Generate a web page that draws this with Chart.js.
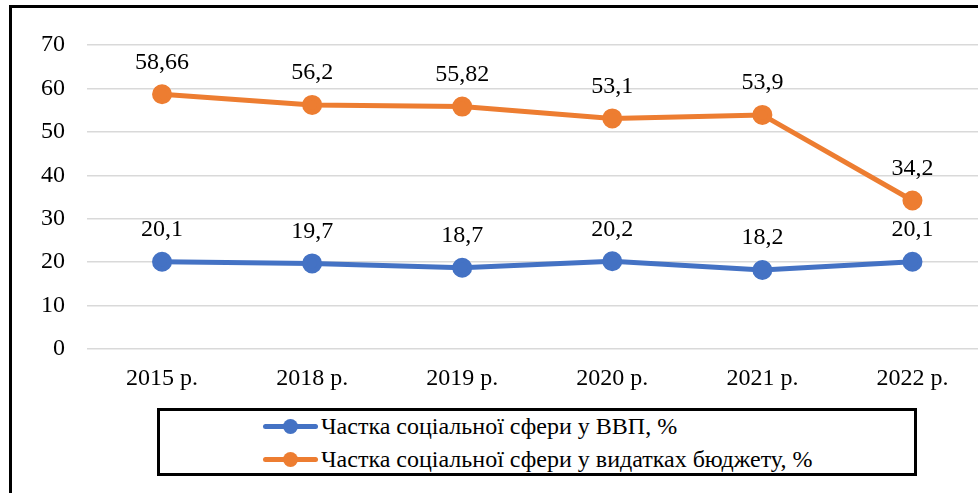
<!DOCTYPE html>
<html>
<head>
<meta charset="utf-8">
<script src="https://cdn.jsdelivr.net/npm/chart.js@4.4.0/dist/chart.umd.min.js"></script>
<style>
  html, body { margin: 0; padding: 0; background: #fff; overflow: hidden; width: 978px; height: 493px; }
  #frame { position: absolute; left: 9px; top: 5px; width: 2000px; height: 1000px; border: 3px solid #000; box-sizing: border-box; }
  #wrap { position: absolute; left: 0; top: 0; width: 1000px; height: 400px; }
  #legend { position: absolute; left: 157px; top: 408px; width: 760px; height: 68px; border: 3px solid #000; box-sizing: border-box; background: #fff;
            font-family: "Liberation Serif", "Times New Roman", serif; font-size: 24px; color: #000; }
  .item { position: absolute; left: 103px; height: 28px; line-height: 28px; white-space: nowrap; }
  .mk { position: absolute; left: 0; top: 11.5px; width: 55px; height: 5px; border-radius: 3px; }
  .mk i { position: absolute; left: 20px; top: -5px; width: 15px; height: 15px; border-radius: 50%; background: inherit; }
  .item span.t { position: absolute; left: 58px; top: 0; }
</style>
</head>
<body>
<div id="frame"></div>
<div id="wrap"><canvas id="c" width="1000" height="400"></canvas></div>
<div id="legend"></div>
<script>
const years = ["2015 р.", "2018 р.", "2019 р.", "2020 р.", "2021 р.", "2022 р."];
const gdpShare = [20.1, 19.7, 18.7, 20.2, 18.2, 20.1];
const budgetShare = [58.66, 56.2, 55.82, 53.1, 53.9, 34.2];
const seriesNames = ["Частка соціальної сфери у ВВП, %", "Частка соціальної сфери у видатках бюджету, %"];
const seriesColors = ["#4472C4", "#ED7D31"];
const yTicks = [0, 10, 20, 30, 40, 50, 60, 70];

const font = "'Liberation Serif', 'Times New Roman', serif";

// value labels above each point
const valueLabels = {
  id: "valueLabels",
  afterDatasetsDraw(chart) {
    const ctx = chart.ctx;
    ctx.save();
    ctx.font = "24px " + font;
    ctx.fillStyle = "#000";
    ctx.textAlign = "center";
    ctx.textBaseline = "middle";
    chart.data.datasets.forEach((ds, i) => {
      chart.getDatasetMeta(i).data.forEach((pt, j) => {
        ctx.fillText(String(ds.data[j]).replace(".", ","), pt.x, pt.y - 32);
      });
    });
    ctx.restore();
  }
};

new Chart(document.getElementById("c"), {
  type: "line",
  data: {
    labels: years,
    datasets: [
      { label: seriesNames[0], data: gdpShare, borderColor: seriesColors[0], backgroundColor: seriesColors[0],
        borderWidth: 5, pointRadius: 7.5, pointHoverRadius: 7.5, tension: 0 },
      { label: seriesNames[1], data: budgetShare, borderColor: seriesColors[1], backgroundColor: seriesColors[1],
        borderWidth: 5, pointRadius: 7.5, pointHoverRadius: 7.5, tension: 0 }
    ]
  },
  options: {
    responsive: false,
    animation: false,
    layout: { padding: { top: 45, right: 10, left: 0, bottom: 0 } },
    plugins: { legend: { display: false }, tooltip: { enabled: false } },
    scales: {
      x: {
        offset: true,
        grid: { display: false, drawTicks: false },
        border: { display: false },
        ticks: { color: "#000", font: { family: font, size: 24 }, padding: 15, maxRotation: 0 },
        afterFit(s) { s.height = 51; }
      },
      y: {
        min: 0, max: 70,
        grid: { color: "#d9d9d9", lineWidth: 1.5, drawTicks: false },
        border: { display: false },
        afterBuildTicks(s) { s.ticks = yTicks.map(v => ({ value: v })); },
        ticks: { color: "#000", font: { family: font, size: 24 }, padding: 22 },
        afterFit(s) { s.width = 87; }
      }
    }
  },
  plugins: [valueLabels]
});

const leg = document.getElementById("legend");
seriesNames.forEach((name, i) => {
  const d = document.createElement("div");
  d.className = "item";
  d.style.top = (i === 0 ? 1 : 34) + "px";
  d.innerHTML = '<div class="mk" style="background:' + seriesColors[i] + '"><i></i></div><span class="t"></span>';
  d.querySelector(".t").textContent = name;
  leg.appendChild(d);
});
</script>
</body>
</html>
